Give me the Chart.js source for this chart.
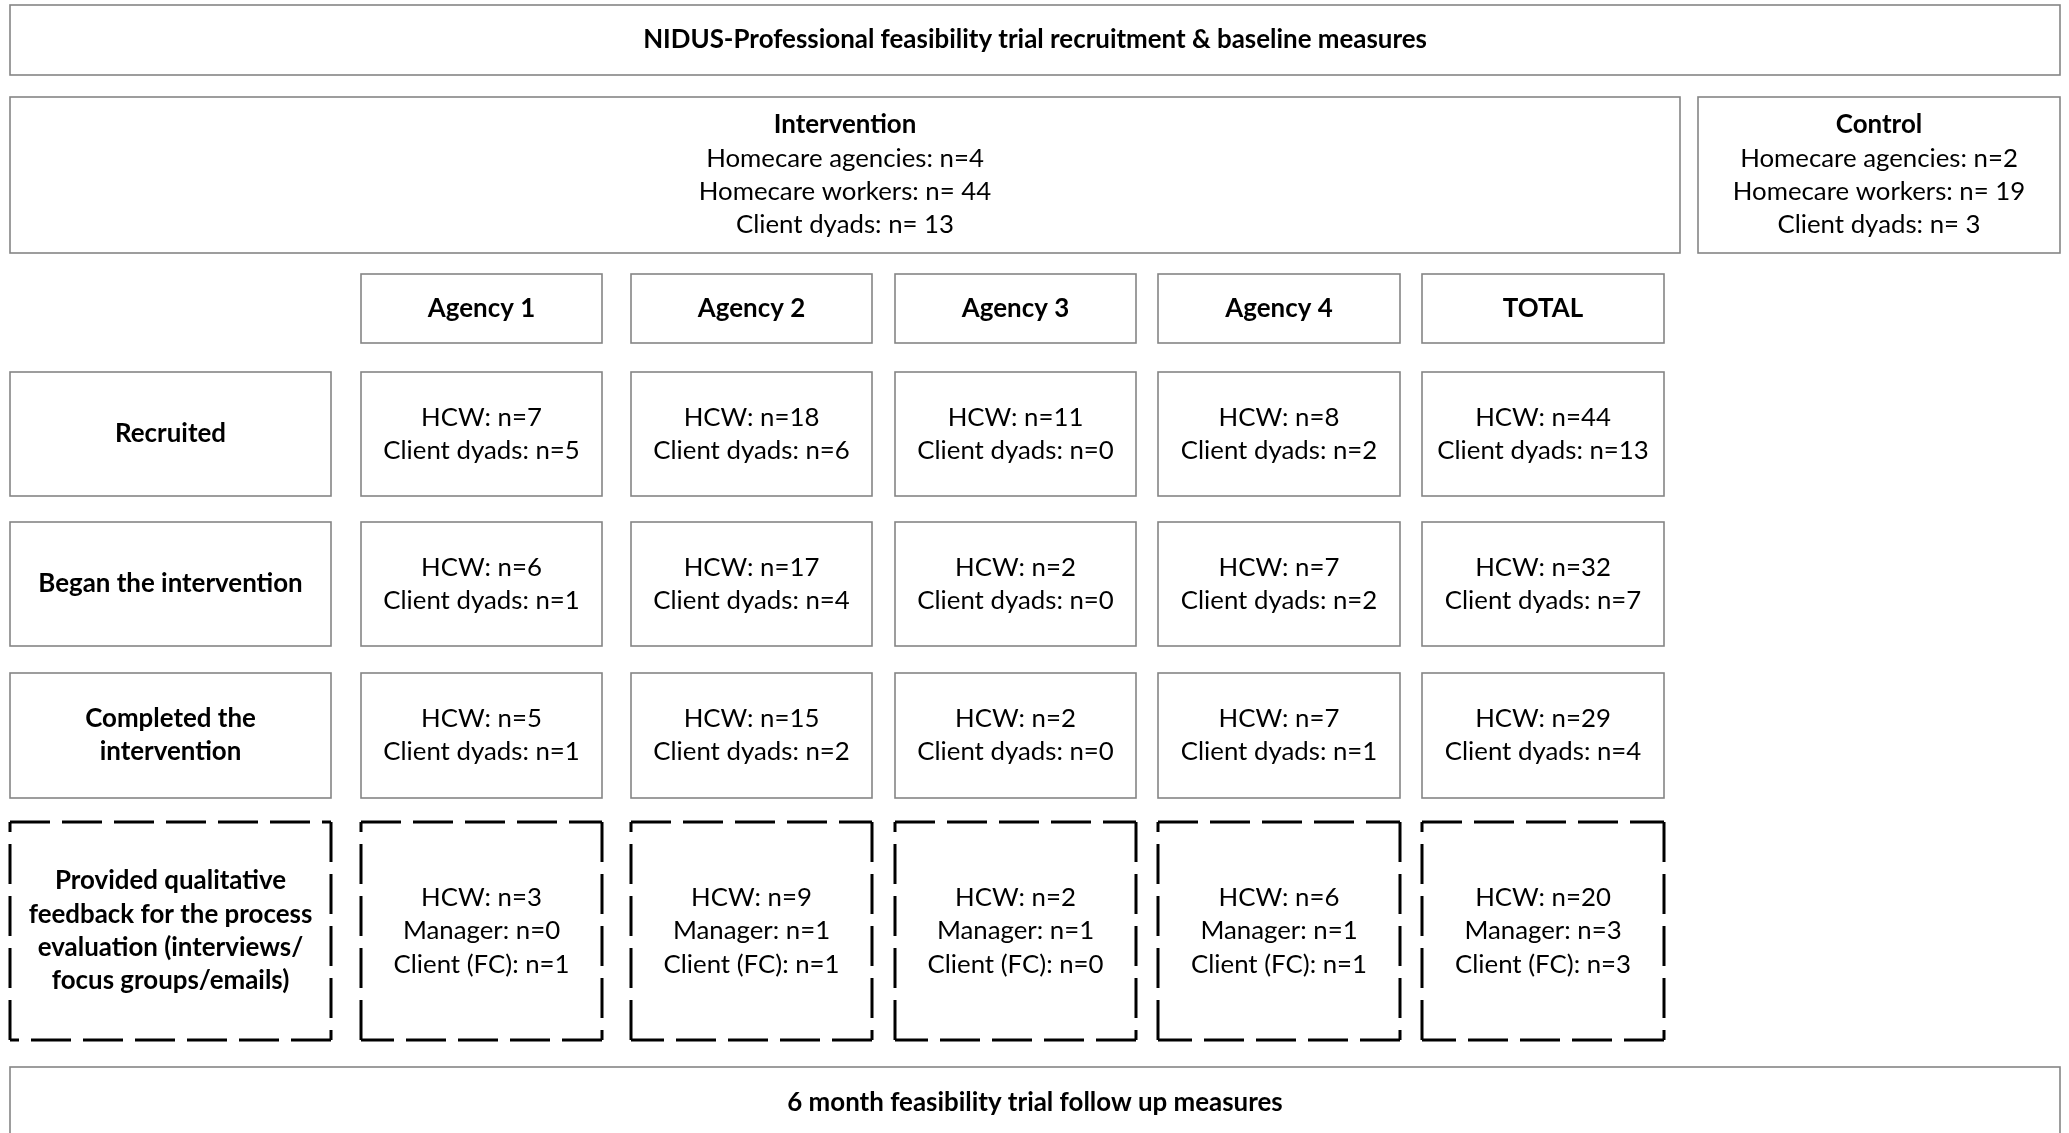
<!DOCTYPE html>
<html>
<head>
<meta charset="utf-8">
<script src="https://cdn.jsdelivr.net/npm/chart.js@4/dist/chart.umd.min.js"></script>
<style>
  html, body { margin: 0; padding: 0; background: #ffffff; }
  #wrap { width: 2069px; height: 1133px; }
</style>
</head>
<body>
<div id="wrap"><canvas id="c" width="2069" height="1133"></canvas></div>
<script>
// ---------------- DATA ----------------
const titleText = 'NIDUS-Professional feasibility trial recruitment & baseline measures';
const footerText = '6 month feasibility trial follow up measures';

const armNames = ['Intervention', 'Control'];
const armAgencies = [4, 2];
const armWorkers = [44, 19];
const armDyads = [13, 3];

const columns = ['Agency 1', 'Agency 2', 'Agency 3', 'Agency 4', 'TOTAL'];

const stageLabels = [
  ['Recruited'],
  ['Began the intervention'],
  ['Completed the', 'intervention'],
  ['Provided qualitative', 'feedback for the process', 'evaluation (interviews/', 'focus groups/emails)']
];

const hcwRecruited   = [7, 18, 11, 8, 44];
const dyadsRecruited = [5, 6, 0, 2, 13];
const hcwBegan       = [6, 17, 2, 7, 32];
const dyadsBegan     = [1, 4, 0, 2, 7];
const hcwCompleted   = [5, 15, 2, 7, 29];
const dyadsCompleted = [1, 2, 0, 1, 4];
const hcwFeedback     = [3, 9, 2, 6, 20];
const managerFeedback = [0, 1, 1, 1, 3];
const clientFeedback  = [1, 1, 0, 1, 3];

// ---------------- LAYOUT (scale units) ----------------
const L = {
  fullX: [10, 2060],
  titleY: [5, 75],
  interventionX: [10, 1680],
  controlX: [1698, 2060],
  armY: [97, 253],
  headerY: [274, 343],
  labelX: [10, 331],
  colX: [[361, 602], [631, 872], [895, 1136], [1158, 1400], [1422, 1664]],
  rowY: [[372, 496], [522, 646], [673, 798], [822, 1040]],
  footerY: [1067, 1160],
  lineH: 33.3,
  textShift: 0
};
const STYLE = {
  font: 'Lato, "Noto Sans", sans-serif',
  size: 25.8,
  boldSize: 25.9,
  text: '#000000',
  solid: '#858585',
  solidW: 1.6,
  dash: '#000000',
  dashW: 3,
  dashPat: [40, 12]
};

// ---------------- build cell contents from data ----------------
function cellLines(stage, i) {
  if (stage === 0) return ['HCW: n=' + hcwRecruited[i], 'Client dyads: n=' + dyadsRecruited[i]];
  if (stage === 1) return ['HCW: n=' + hcwBegan[i], 'Client dyads: n=' + dyadsBegan[i]];
  if (stage === 2) return ['HCW: n=' + hcwCompleted[i], 'Client dyads: n=' + dyadsCompleted[i]];
  return ['HCW: n=' + hcwFeedback[i], 'Manager: n=' + managerFeedback[i], 'Client (FC): n=' + clientFeedback[i]];
}

const flowPlugin = {
  id: 'flow',
  beforeDraw(chart) {
    const ctx = chart.ctx;
    ctx.save();
    ctx.fillStyle = '#ffffff';
    ctx.fillRect(0, 0, chart.width, chart.height);
    ctx.restore();
  },
  afterDraw(chart) {
    const ctx = chart.ctx;
    const xs = chart.scales.x, ys = chart.scales.y;
    const px = v => xs.getPixelForValue(v);
    const py = v => ys.getPixelForValue(v);

    function box(xr, yr, dashed) {
      const x0 = px(xr[0]), x1 = px(xr[1]), y0 = py(yr[0]), y1 = py(yr[1]);
      ctx.save();
      if (dashed) {
        ctx.strokeStyle = STYLE.dash;
        ctx.lineWidth = STYLE.dashW;
        ctx.setLineDash(STYLE.dashPat);
        ctx.lineCap = 'butt';
        const sides = [[x0, y0, x1, y0], [x1, y0, x1, y1], [x1, y1, x0, y1], [x0, y1, x0, y0]];
        sides.forEach(s => { ctx.beginPath(); ctx.moveTo(s[0], s[1]); ctx.lineTo(s[2], s[3]); ctx.stroke(); });
      } else {
        ctx.strokeStyle = STYLE.solid;
        ctx.lineWidth = STYLE.solidW;
        ctx.strokeRect(x0, y0, x1 - x0, y1 - y0);
      }
      ctx.restore();
    }
    function text(xr, yr, lines) {
      const cx = (px(xr[0]) + px(xr[1])) / 2;
      const cy = (py(yr[0]) + py(yr[1])) / 2 + L.textShift;
      const n = lines.length;
      ctx.save();
      ctx.fillStyle = STYLE.text;
      ctx.textAlign = 'center';
      ctx.textBaseline = 'middle';
      lines.forEach((ln, k) => {
        ctx.font = ln.bold ? ('bold ' + STYLE.boldSize + 'px ' + STYLE.font) : (STYLE.size + 'px ' + STYLE.font);
        ctx.fillText(ln.t, cx, cy + (k - (n - 1) / 2) * L.lineH);
      });
      ctx.restore();
    }
    const B = arr => arr.map(t => ({ t, bold: true }));
    const R = arr => arr.map(t => ({ t, bold: false }));

    // title
    box(L.fullX, L.titleY, false);
    text(L.fullX, L.titleY, B([titleText]));

    // arms
    const armX = [L.interventionX, L.controlX];
    armNames.forEach((nm, a) => {
      box(armX[a], L.armY, false);
      text(armX[a], L.armY, B([nm]).concat(R([
        'Homecare agencies: n=' + armAgencies[a],
        'Homecare workers: n= ' + armWorkers[a],
        'Client dyads: n= ' + armDyads[a]
      ])));
    });

    // column headers
    columns.forEach((c, i) => {
      box(L.colX[i], L.headerY, false);
      text(L.colX[i], L.headerY, B([c]));
    });

    // stage rows
    stageLabels.forEach((lab, s) => {
      const dashed = s === 3;
      box(L.labelX, L.rowY[s], dashed);
      text(L.labelX, L.rowY[s], B(lab));
      columns.forEach((c, i) => {
        box(L.colX[i], L.rowY[s], dashed);
        text(L.colX[i], L.rowY[s], R(cellLines(s, i)));
      });
    });

    // footer (bottom edge falls outside the canvas)
    box(L.fullX, L.footerY, false);
    text(L.fullX, [L.footerY[0], 1139], B([footerText]));
  }
};

new Chart(document.getElementById('c'), {
  type: 'scatter',
  data: { datasets: [{ data: [], pointRadius: 0 }] },
  options: {
    responsive: false,
    maintainAspectRatio: false,
    devicePixelRatio: 1,
    animation: false,
    layout: { padding: 0 },
    plugins: { legend: { display: false }, tooltip: { enabled: false }, title: { display: false } },
    scales: {
      x: { type: 'linear', min: 0, max: 2069, display: false },
      y: { type: 'linear', min: 0, max: 1133, reverse: true, display: false }
    }
  },
  plugins: [flowPlugin]
});
</script>
</body>
</html>
